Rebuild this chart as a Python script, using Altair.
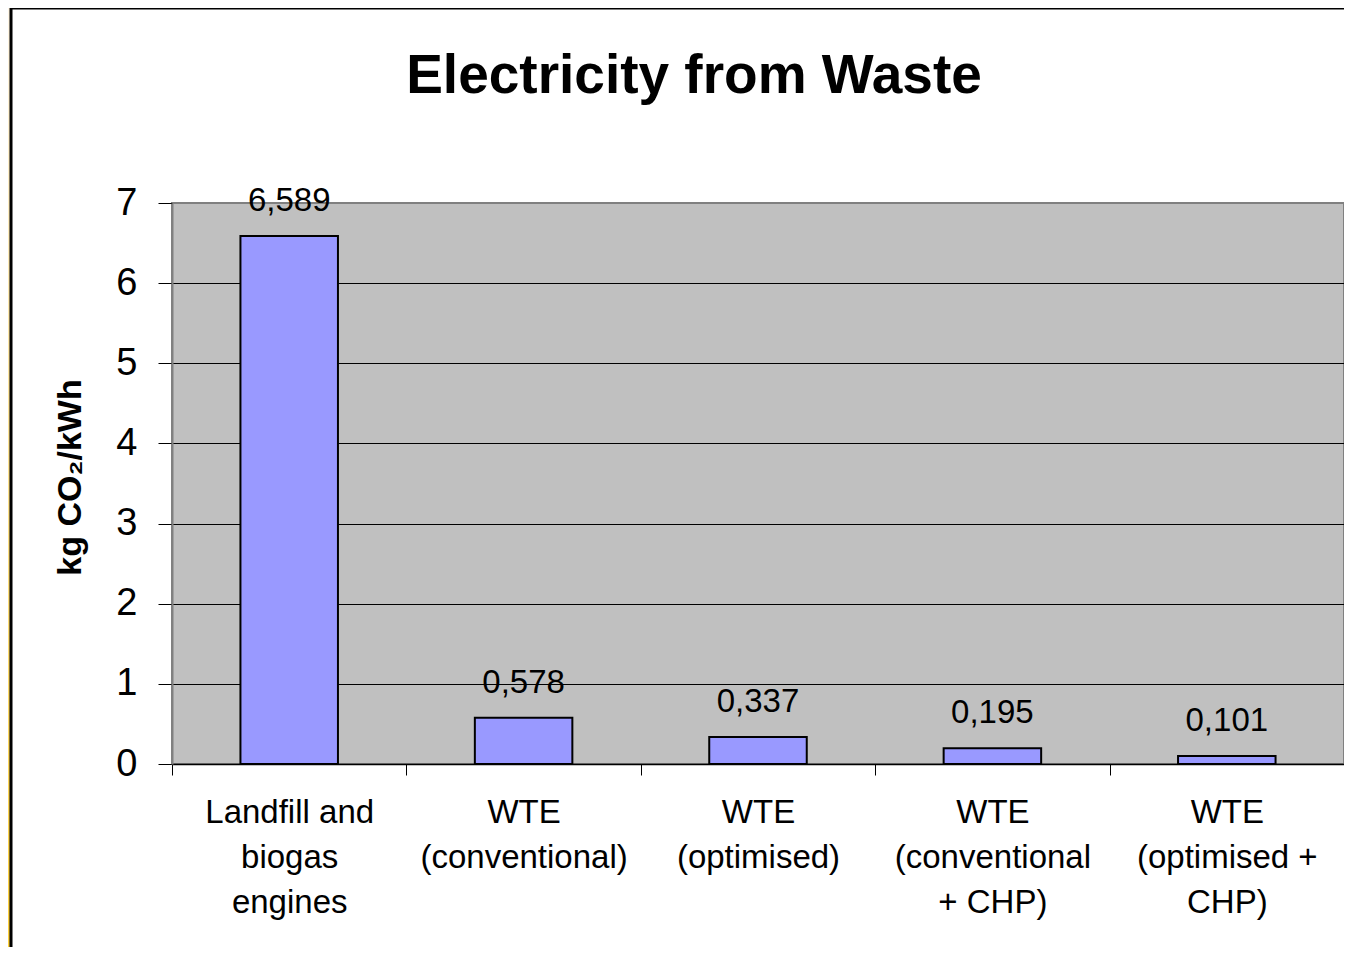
import altair as alt
import pandas as pd

categories = [
    "Landfill and|biogas|engines",
    "WTE|(conventional)",
    "WTE|(optimised)",
    "WTE|(conventional|+ CHP)",
    "WTE|(optimised +|CHP)",
]
values = [6.589, 0.578, 0.337, 0.195, 0.101]
y_ticks = [0, 1, 2, 3, 4, 5, 6, 7]

df = pd.DataFrame({"category": categories, "value": values})

FONT = "Liberation Sans"

x_enc = alt.X(
    "category:N",
    sort=categories,
    scale=alt.Scale(paddingInner=0, paddingOuter=0),
    axis=alt.Axis(
        title=None,
        labelAngle=0,
        labelExpr="split(datum.label, '|')",
        labelFontSize=33,
        labelFont=FONT,
        labelColor="black",
        labelLineHeight=45,
        labelPadding=21,
        labelLimit=0,
        tickBand="extent",
        tickSize=11,
        tickColor="black",
        domainColor="black",
        domainWidth=1.5,
        grid=False,
    ),
)
y_enc = alt.Y(
    "value:Q",
    scale=alt.Scale(domain=[0, 7], nice=False),
    axis=alt.Axis(
        title="kg  CO₂/kWh",
        titleFont=FONT,
        titleFontSize=34,
        titleFontWeight="bold",
        titleColor="black",
        titleX=-85,
        titleY=274,
        titleAngle=-90,
        titleBaseline="bottom",
        titleAlign="center",
        values=y_ticks,
        format="d",
        labelFontSize=38,
        labelFont=FONT,
        labelColor="black",
        labelPadding=21,
        tickSize=14,
        tickColor="black",
        domainColor="#808080",
        domainWidth=2,
        gridColor={"condition": {"test": "datum.value === 7", "value": "#808080"}, "value": "black"},
        gridWidth=1,
    ),
)

bars = alt.Chart(df).mark_bar(
    width=alt.RelativeBandSize(0.416),
    fill="#9999FF",
    stroke="black",
    strokeWidth=2,
).encode(x=x_enc, y=y_enc)

labels = alt.Chart(df).transform_calculate(
    txt="replace(format(datum.value, '.3f'), '.', ',')"
).mark_text(
    font=FONT, fontSize=33, color="black", baseline="alphabetic", align="center", dy=-25
).encode(x=alt.X("category:N", sort=categories), y="value:Q", text="txt:N")

one = alt.Data(values=[{}])
strip = alt.Chart(one).mark_rect(
    fill=alt.Gradient(
        gradient="linear",
        stops=[alt.GradientStop(color="#FFF6E6", offset=0), alt.GradientStop(color="#FFD23C", offset=1)],
        x1=0, x2=0, y1=0, y2=1,
    )
).encode(x=alt.value(-164), x2=alt.value(-162), y=alt.value(-195), y2=alt.value(744))
left_line = alt.Chart(one).mark_rule(color="black", strokeWidth=3).encode(
    x=alt.value(-161), y=alt.value(-195), y2=alt.value(744)
)
top_line = alt.Chart(one).mark_rule(color="black", strokeWidth=3).encode(
    x=alt.value(-162), x2=alt.value(1180), y=alt.value(-195)
)
title = alt.Chart(one).mark_text(
    text="Electricity from Waste",
    font=FONT,
    fontSize=55,
    fontWeight="bold",
    color="black",
    align="center",
    baseline="alphabetic",
).encode(x=alt.value(522), y=alt.value(-110))

chart = alt.layer(strip, left_line, top_line, title, bars, labels).properties(
    width=1172,
    height=561,
    autosize=alt.AutoSizeParams(type="none"),
    padding={"left": 164, "top": 195, "right": 0, "bottom": 183},
).configure_view(
    fill="#C0C0C0", stroke="#808080", strokeWidth=2
)

chart.save("out.html", embed_options={"renderer": "svg", "actions": False})
